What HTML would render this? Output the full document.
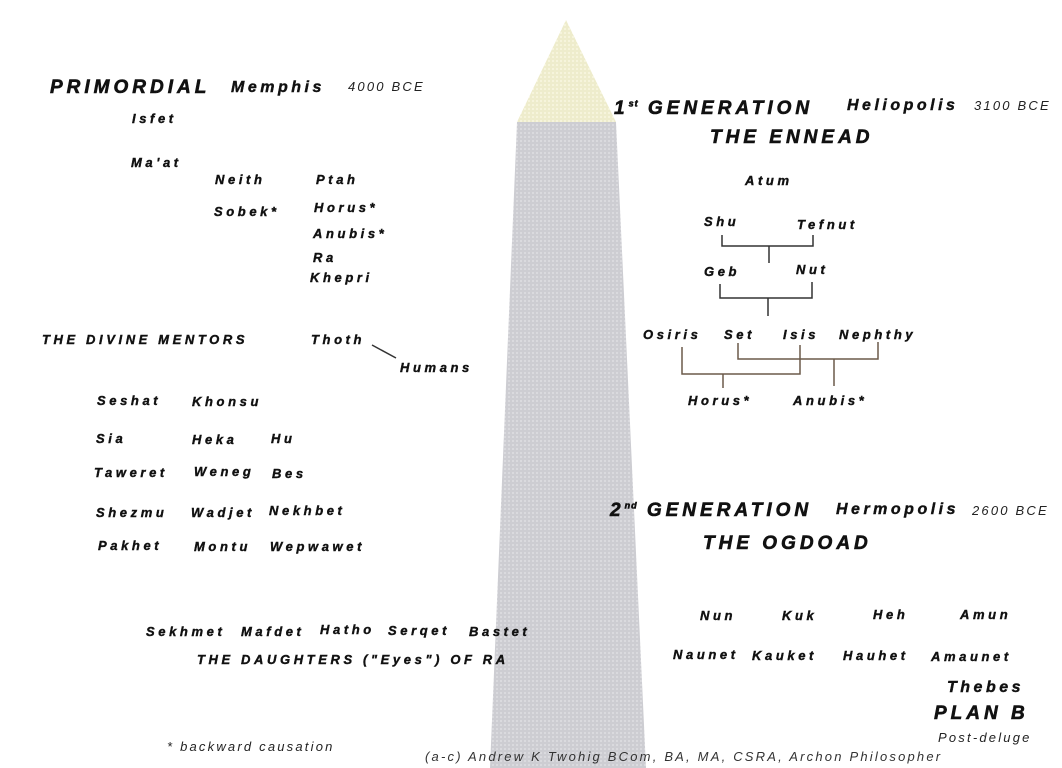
<!DOCTYPE html>
<html><head><meta charset="utf-8"><style>
body{margin:0;width:1062px;height:768px;background:#fff;position:relative;overflow:hidden;font-family:"Liberation Sans",sans-serif}
.t{position:absolute;font-weight:bold;font-style:italic;font-size:13px;letter-spacing:3.6px;color:#111;white-space:nowrap;line-height:1;-webkit-text-stroke:0.4px #111}
.h{font-size:19px;letter-spacing:4px;-webkit-text-stroke:0.6px #111}
.m{font-size:16px;letter-spacing:3.5px}
.s{font-weight:normal;font-size:13px;letter-spacing:2.2px;color:#222;-webkit-text-stroke:0}
sup{font-size:9px;letter-spacing:1px}
svg{position:absolute;left:0;top:0}
</style></head><body>
<svg width="1062" height="768">
<defs><pattern id="p" width="4" height="4" patternUnits="userSpaceOnUse"><rect width="4" height="4" fill="#cdcdd2"/><rect width="2" height="2" fill="#dadade"/></pattern>
<pattern id="q" width="4" height="4" patternUnits="userSpaceOnUse"><rect width="4" height="4" fill="#eeeccc"/><rect width="2" height="2" fill="#f6f4dc"/></pattern></defs>
<polygon points="517,122 616,122 646,768 490,768" fill="url(#p)"/>
<polygon points="566,20 616,122 517,122" fill="url(#q)"/>
<g stroke="#333" stroke-width="1.5" fill="none">
<path d="M722,235V246H813V235M769,246V263"/>
<path d="M720,284V298H812V282M768,298V316"/>
<path d="M372,345L396,358"/>
</g>
<g stroke="#6b5a4a" stroke-width="1.5" fill="none">
<path d="M682,347V374H800V345M723,374V388"/>
<path d="M738,343V359H878V342M834,359V386"/>
</g>
</svg>
<div class="t h" style="left:50px;top:78px">PRIMORDIAL</div>
<div class="t m" style="left:231px;top:80px">Memphis</div>
<div class="t s" style="left:348px;top:80px">4000 BCE</div>
<div class="t" style="left:132px;top:112px">Isfet</div>
<div class="t" style="left:131px;top:156px">Ma'at</div>
<div class="t" style="left:215px;top:173px">Neith</div>
<div class="t" style="left:316px;top:173px">Ptah</div>
<div class="t" style="left:214px;top:205px">Sobek*</div>
<div class="t" style="left:314px;top:201px">Horus*</div>
<div class="t" style="left:313px;top:227px">Anubis*</div>
<div class="t" style="left:313px;top:251px">Ra</div>
<div class="t" style="left:310px;top:271px">Khepri</div>
<div class="t" style="left:42px;top:333px">THE DIVINE MENTORS</div>
<div class="t" style="left:311px;top:333px">Thoth</div>
<div class="t" style="left:400px;top:361px">Humans</div>
<div class="t" style="left:97px;top:394px">Seshat</div>
<div class="t" style="left:192px;top:395px">Khonsu</div>
<div class="t" style="left:96px;top:432px">Sia</div>
<div class="t" style="left:192px;top:433px">Heka</div>
<div class="t" style="left:271px;top:432px">Hu</div>
<div class="t" style="left:94px;top:466px">Taweret</div>
<div class="t" style="left:194px;top:465px">Weneg</div>
<div class="t" style="left:272px;top:467px">Bes</div>
<div class="t" style="left:96px;top:506px">Shezmu</div>
<div class="t" style="left:191px;top:506px">Wadjet</div>
<div class="t" style="left:269px;top:504px">Nekhbet</div>
<div class="t" style="left:98px;top:539px">Pakhet</div>
<div class="t" style="left:194px;top:540px">Montu</div>
<div class="t" style="left:270px;top:540px">Wepwawet</div>
<div class="t" style="left:146px;top:625px">Sekhmet</div>
<div class="t" style="left:241px;top:625px">Mafdet</div>
<div class="t" style="left:320px;top:623px">Hatho</div>
<div class="t" style="left:388px;top:624px">Serqet</div>
<div class="t" style="left:469px;top:625px">Bastet</div>
<div class="t" style="left:197px;top:653px">THE DAUGHTERS ("Eyes") OF RA</div>
<div class="t s" style="left:167px;top:740px">* backward causation</div>
<div class="t s" style="left:425px;top:750px;color:#333">(a-c) Andrew K Twohig BCom, BA, MA, CSRA, Archon Philosopher</div>
<div class="t h" style="left:614px;top:99px">1<sup>st</sup> GENERATION</div>
<div class="t m" style="left:847px;top:98px">Heliopolis</div>
<div class="t s" style="left:974px;top:99px">3100 BCE</div>
<div class="t h" style="left:710px;top:128px">THE ENNEAD</div>
<div class="t" style="left:745px;top:174px">Atum</div>
<div class="t" style="left:704px;top:215px">Shu</div>
<div class="t" style="left:797px;top:218px">Tefnut</div>
<div class="t" style="left:704px;top:265px">Geb</div>
<div class="t" style="left:796px;top:263px">Nut</div>
<div class="t" style="left:643px;top:328px">Osiris</div>
<div class="t" style="left:724px;top:328px">Set</div>
<div class="t" style="left:783px;top:328px">Isis</div>
<div class="t" style="left:839px;top:328px">Nephthy</div>
<div class="t" style="left:688px;top:394px">Horus*</div>
<div class="t" style="left:793px;top:394px">Anubis*</div>
<div class="t h" style="left:610px;top:501px">2<sup>nd</sup> GENERATION</div>
<div class="t m" style="left:836px;top:502px">Hermopolis</div>
<div class="t s" style="left:972px;top:504px">2600 BCE</div>
<div class="t h" style="left:703px;top:534px">THE OGDOAD</div>
<div class="t" style="left:700px;top:609px">Nun</div>
<div class="t" style="left:782px;top:609px">Kuk</div>
<div class="t" style="left:873px;top:608px">Heh</div>
<div class="t" style="left:960px;top:608px">Amun</div>
<div class="t" style="left:673px;top:648px">Naunet</div>
<div class="t" style="left:752px;top:649px">Kauket</div>
<div class="t" style="left:843px;top:649px">Hauhet</div>
<div class="t" style="left:931px;top:650px">Amaunet</div>
<div class="t m" style="left:947px;top:680px">Thebes</div>
<div class="t h" style="left:934px;top:704px">PLAN B</div>
<div class="t s" style="left:938px;top:731px">Post-deluge</div>
</body></html>
